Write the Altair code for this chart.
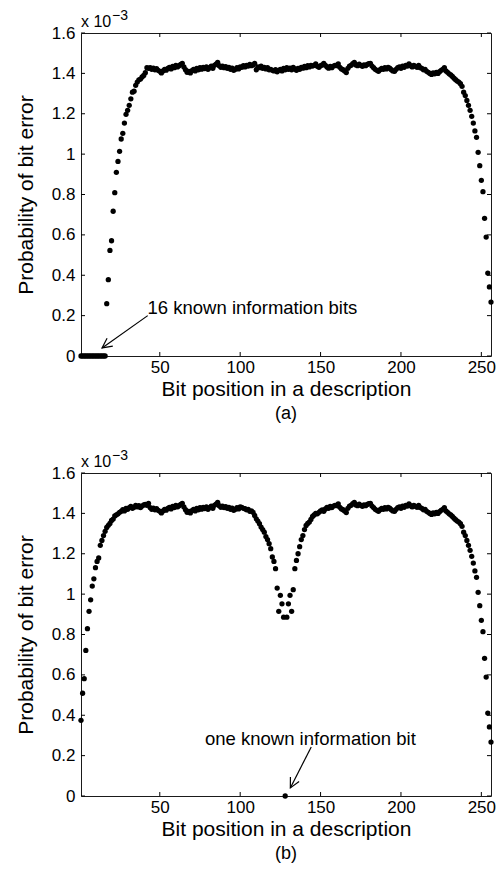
import altair as alt
import pandas as pd

# ---------------- data (probability of bit error, in units of 1e-3) ----------------
BITS = list(range(1, 257))

# panel (a): bits 1-16 are known (zero error)
a_known = [0.0, 0.0, 0.0, 0.0, 0.0, 0.0, 0.0, 0.0,
           0.0, 0.0, 0.0, 0.0, 0.0, 0.0, 0.0, 0.0]
# bits 17-43
a_rise = [0.259, 0.378, 0.523, 0.571, 0.717, 0.809, 0.910, 0.964, 1.014, 1.075,
          1.103, 1.154, 1.197, 1.217, 1.242, 1.274, 1.307, 1.312, 1.341, 1.357,
          1.368, 1.372, 1.382, 1.390, 1.403, 1.428, 1.425]
# bits 44-100 (shared plateau)
plateau_1 = [1.428, 1.420, 1.426, 1.418, 1.424, 1.415, 1.410,
             1.402, 1.412, 1.420, 1.416, 1.425, 1.430, 1.422,
             1.435, 1.428, 1.440, 1.432, 1.438, 1.445, 1.450,
             1.432, 1.418, 1.405, 1.410, 1.402, 1.414, 1.420,
             1.412, 1.425, 1.418, 1.428, 1.421, 1.430, 1.424,
             1.432, 1.420, 1.428, 1.436, 1.425, 1.440, 1.446,
             1.455, 1.438, 1.430, 1.436, 1.428, 1.433, 1.425,
             1.430, 1.420, 1.426, 1.415, 1.420, 1.428, 1.422,
             1.432]
# bits 101-155, panel (a)
a_mid = [1.430, 1.438, 1.432, 1.440, 1.436, 1.444, 1.438,
         1.442, 1.450, 1.418, 1.432, 1.428, 1.436, 1.425,
         1.430, 1.422, 1.428, 1.418, 1.420, 1.415, 1.412,
         1.418, 1.408, 1.415, 1.420, 1.412, 1.425, 1.418,
         1.428, 1.420, 1.426, 1.418, 1.430, 1.422, 1.415,
         1.425, 1.420, 1.430, 1.426, 1.435, 1.428, 1.438,
         1.432, 1.440, 1.436, 1.440, 1.447, 1.435, 1.430,
         1.438, 1.442, 1.450, 1.440, 1.432, 1.426]
# bits 156-226 (shared plateau)
plateau_2 = [1.434, 1.428, 1.436, 1.440,
             1.438, 1.447, 1.430, 1.422, 1.418, 1.412, 1.404,
             1.425, 1.436, 1.440, 1.448, 1.455, 1.442, 1.438,
             1.446, 1.440, 1.435, 1.442, 1.438, 1.444, 1.448,
             1.450, 1.436, 1.428, 1.420, 1.415, 1.410, 1.418,
             1.425, 1.420, 1.428, 1.422, 1.430, 1.426, 1.418,
             1.412, 1.410, 1.420, 1.428, 1.432, 1.425, 1.436,
             1.430, 1.440, 1.436, 1.447, 1.438, 1.432, 1.440,
             1.435, 1.430, 1.440, 1.428, 1.425, 1.418, 1.420,
             1.410, 1.405, 1.400, 1.395, 1.402, 1.398, 1.405,
             1.400, 1.408, 1.415, 1.420]
# bits 227-256 (shared fall-off)
fall = [1.428, 1.412, 1.405, 1.398, 1.392, 1.385, 1.376, 1.369, 1.362, 1.357,
        1.349, 1.336, 1.307, 1.290, 1.266, 1.242, 1.217, 1.187, 1.154, 1.115,
        1.083, 1.009, 0.943, 0.870, 0.814, 0.682, 0.589, 0.411, 0.342, 0.267]

# panel (b): bits 1-43
b_rise = [0.375, 0.509, 0.581, 0.721, 0.829, 0.915, 0.972, 1.040, 1.076, 1.131,
          1.162, 1.179, 1.242, 1.266, 1.290, 1.311, 1.330, 1.341, 1.350, 1.365,
          1.372, 1.387, 1.393, 1.398, 1.405, 1.410, 1.418, 1.412, 1.425, 1.420,
          1.428, 1.435, 1.425, 1.430, 1.440, 1.432, 1.438, 1.428, 1.436, 1.442,
          1.445, 1.440, 1.450]
# bits 101-155, panel (b): bit 128 is known
b_dip = [1.430, 1.425, 1.423, 1.418, 1.420, 1.410, 1.412, 1.405, 1.390, 1.373,
         1.362, 1.349, 1.332, 1.320, 1.307, 1.285, 1.270, 1.250, 1.225, 1.184,
         1.162, 1.126, 1.030, 0.915, 0.994, 0.952, 0.886, 0.000, 0.886, 0.952,
         0.994, 0.915, 1.022, 1.126, 1.167, 1.200, 1.235, 1.270, 1.290, 1.320,
         1.340, 1.350, 1.357, 1.370, 1.385, 1.392, 1.400, 1.398, 1.405, 1.412,
         1.417, 1.410, 1.422, 1.430, 1.425]

series_a = a_known + a_rise + plateau_1 + a_mid + plateau_2 + fall
series_b = b_rise + plateau_1 + b_dip + plateau_2 + fall

X_TICKS = [50, 100, 150, 200, 250]
Y_TICKS = [0, 0.2, 0.4, 0.6, 0.8, 1.0, 1.2, 1.4, 1.6]

# annotations: text anchor (bit, value) and arrow start -> tip (bit, value)
note_a = {"text": "16 known information bits", "bit": 42.4, "pe": 0.21,
          "from_bit": 42.5, "from_pe": 0.20, "to_bit": 14.1, "to_pe": 0.04}
note_b = {"text": "one known information bit", "bit": 78.1, "pe": 0.254,
          "from_bit": 144.2, "from_pe": 0.243, "to_bit": 131.2, "to_pe": 0.04}

# ---------------- chart ----------------
W, H = 410, 323
FONT = "Liberation Sans"
INK = "#000000"


def panel(values, tag, note, arrow_angle):
    df = pd.DataFrame({"bit": BITS, "pe": values})
    xs = alt.Scale(domain=[1, 256], nice=False, zero=False)
    ys = alt.Scale(domain=[0, 1.6], nice=False, zero=False)

    pts = alt.Chart(df).mark_circle(size=28, color=INK, opacity=1).encode(
        x=alt.X("bit:Q", scale=xs,
                axis=alt.Axis(values=X_TICKS, title="Bit position in a description",
                              ticks=False, tickSize=0, domain=False, grid=False,
                              labelPadding=3, titlePadding=3,
                              labelFont=FONT, labelFontSize=17, labelColor=INK,
                              titleFont=FONT, titleFontSize=21, titleFontWeight="normal",
                              titleColor=INK)),
        y=alt.Y("pe:Q", scale=ys,
                axis=alt.Axis(values=Y_TICKS, format="~g", title="Probability of bit error",
                              ticks=False, tickSize=0, domain=False, grid=False,
                              labelPadding=6, titlePadding=15,
                              labelFont=FONT, labelFontSize=17, labelColor=INK,
                              titleFont=FONT, titleFontSize=21, titleFontWeight="normal",
                              titleColor=INK)),
    )

    xt = pd.DataFrame({"bit": X_TICKS})
    yt = pd.DataFrame({"pe": Y_TICKS})
    tb = alt.Chart(xt).mark_rule(color=INK, strokeWidth=1).encode(
        x=alt.X("bit:Q", scale=xs), y=alt.value(H), y2=alt.value(H - 4))
    tt = alt.Chart(xt).mark_rule(color=INK, strokeWidth=1).encode(
        x=alt.X("bit:Q", scale=xs), y=alt.value(0), y2=alt.value(4))
    tl = alt.Chart(yt).mark_rule(color=INK, strokeWidth=1).encode(
        y=alt.Y("pe:Q", scale=ys), x=alt.value(0), x2=alt.value(4))
    tr = alt.Chart(yt).mark_rule(color=INK, strokeWidth=1).encode(
        y=alt.Y("pe:Q", scale=ys), x=alt.value(W), x2=alt.value(W - 4))

    ndf = pd.DataFrame([note])
    ntext = alt.Chart(ndf).mark_text(align="left", baseline="alphabetic", font=FONT,
                                     fontSize=18.5, color=INK).encode(
        x=alt.X("bit:Q", scale=xs), y=alt.Y("pe:Q", scale=ys), text="text:N")
    nline = alt.Chart(ndf).mark_rule(color=INK, strokeWidth=1.2).encode(
        x=alt.X("from_bit:Q", scale=xs), y=alt.Y("from_pe:Q", scale=ys),
        x2="to_bit:Q", y2="to_pe:Q")
    nhead = alt.Chart(ndf).mark_point(shape="M-1,-0.5L0,0L-1,0.5", filled=False,
                                      stroke=INK, strokeWidth=1.2, size=380, opacity=1,
                                      angle=arrow_angle).encode(
        x=alt.X("to_bit:Q", scale=xs), y=alt.Y("to_pe:Q", scale=ys))

    exp_base = alt.Chart(pd.DataFrame({"t": ["x 10"]})).mark_text(
        align="left", baseline="alphabetic", font=FONT, fontSize=16, color=INK).encode(
        x=alt.value(0), y=alt.value(-6), text="t:N")
    exp_sup = alt.Chart(pd.DataFrame({"t": ["\u22123"]})).mark_text(
        align="left", baseline="alphabetic", font=FONT, fontSize=14, color=INK).encode(
        x=alt.value(31), y=alt.value(-13), text="t:N")
    cap = alt.Chart(pd.DataFrame({"t": [tag]})).mark_text(
        align="center", baseline="middle", font=FONT, fontSize=18, color=INK).encode(
        x=alt.value(W / 2), y=alt.value(H + 58), text="t:N")

    return alt.layer(pts, tb, tt, tl, tr, nline, nhead, ntext, exp_base, exp_sup, cap).properties(
        width=W, height=H)


pa = panel(series_a, "(a)", note_a, 144)
pb = panel(series_b, "(b)", note_b, 117)

chart = alt.vconcat(pa, pb, spacing=117, bounds="flush").properties(
    padding={"left": 14, "top": 8, "right": 4, "bottom": 4},
    background="white",
).configure_view(stroke="#1a1a1a", strokeWidth=1)

chart.save("out.html", embed_options={"renderer": "svg", "actions": False})
